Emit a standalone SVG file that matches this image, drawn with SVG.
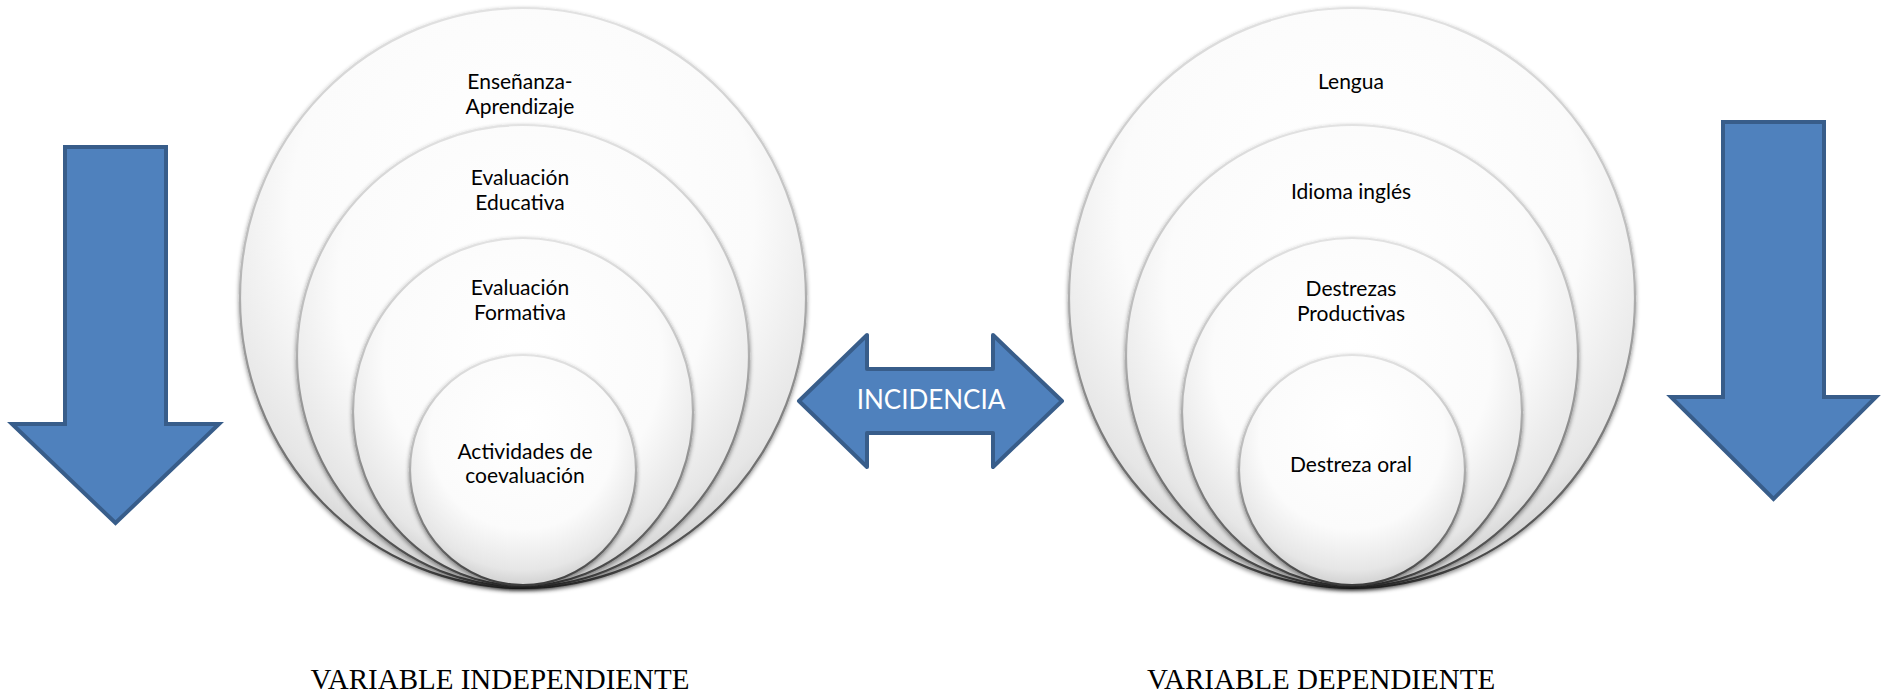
<svg xmlns="http://www.w3.org/2000/svg" width="1883" height="696" viewBox="0 0 1883 696">
  <defs>
    <radialGradient id="ballFill" cx="0.5" cy="0.38" r="0.66" fx="0.5" fy="0.3">
      <stop offset="0" stop-color="#ffffff"/>
      <stop offset="0.62" stop-color="#fbfbfb"/>
      <stop offset="0.86" stop-color="#e6e6e6"/>
      <stop offset="1" stop-color="#c4c4c4"/>
    </radialGradient>
    <linearGradient id="ballStroke" x1="0" y1="0" x2="0" y2="1">
      <stop offset="0" stop-color="#e2e2e2"/>
      <stop offset="0.45" stop-color="#b8b8b8"/>
      <stop offset="0.8" stop-color="#6e6e6e"/>
      <stop offset="1" stop-color="#3c3c3c"/>
    </linearGradient>
    <filter id="shade" x="-10%" y="-10%" width="120%" height="125%">
      <feDropShadow dx="0" dy="2" stdDeviation="2.2" flood-color="#000" flood-opacity="0.45"/>
    </filter>
  </defs>
  <style>
    .ball { fill: url(#ballFill); stroke: url(#ballStroke); stroke-width: 2.2; filter: url(#shade); }
    .lbl { font-family: Lato, Carlito, "Open Sans", sans-serif; font-size: 21px; fill: #000; text-anchor: middle; }
    .barrow { fill: #4f81bd; stroke: #385d8a; stroke-width: 4; stroke-linejoin: miter; }
    .var { font-family: "Liberation Serif", "Times New Roman", serif; font-size: 29px; fill: #000; text-anchor: middle; }
    .inc { font-family: Lato, Carlito, "Open Sans", sans-serif; font-size: 26px; fill: #ffffff; text-anchor: middle; }
  </style>
  <rect width="1883" height="696" fill="#ffffff"/>

  <g id="left-arrow">
    <polygon class="barrow" points="65,147 166,147 166,424 219,424 115.5,523 12,424 65,424"/>
  </g>

  <g id="left-venn">
    <g id="ens-apr">
      <ellipse class="ball" cx="523" cy="298" rx="283" ry="290"/>
      <text class="lbl" x="520" y="89">Enseñanza-</text>
      <text class="lbl" x="520" y="114">Aprendizaje</text>
    </g>
    <g id="eval-edu">
      <ellipse class="ball" cx="523" cy="356" rx="226" ry="231"/>
      <text class="lbl" x="520" y="185">Evaluación</text>
      <text class="lbl" x="520" y="210">Educativa</text>
    </g>
    <g id="eval-form">
      <ellipse class="ball" cx="523" cy="412" rx="170" ry="174"/>
      <text class="lbl" x="520" y="295">Evaluación</text>
      <text class="lbl" x="520" y="320">Formativa</text>
    </g>
    <g id="act-coev">
      <ellipse class="ball" cx="523" cy="470" rx="113" ry="115"/>
      <text class="lbl" x="525" y="459">Actividades de</text>
      <text class="lbl" x="525" y="483">coevaluación</text>
    </g>
  </g>

  <g id="connectors">
    <g id="incidencia">
      <polygon class="barrow" style="stroke-linejoin:round" points="799,401 867,335 867,369 993,369 993,335 1062,401 993,467 993,433 867,433 867,467"/>
      <text class="inc" x="931" y="409">INCIDENCIA</text>
    </g>
  </g>

  <g id="right-venn">
    <g id="lengua">
      <ellipse class="ball" cx="1352" cy="298" rx="283" ry="290"/>
      <text class="lbl" x="1351" y="89">Lengua</text>
    </g>
    <g id="idioma">
      <ellipse class="ball" cx="1352" cy="356" rx="226" ry="231"/>
      <text class="lbl" x="1351" y="199">Idioma inglés</text>
    </g>
    <g id="destrezas">
      <ellipse class="ball" cx="1352" cy="412" rx="170" ry="174"/>
      <text class="lbl" x="1351" y="296">Destrezas</text>
      <text class="lbl" x="1351" y="321">Productivas</text>
    </g>
    <g id="oral">
      <ellipse class="ball" cx="1352" cy="470" rx="113" ry="115"/>
      <text class="lbl" x="1351" y="472">Destreza oral</text>
    </g>
  </g>

  <g id="right-arrow">
    <polygon class="barrow" points="1723,122 1824,122 1824,397 1876,397 1773.5,499 1671,397 1723,397"/>
  </g>

  <g id="captions">
    <text class="var" x="500" y="689">VARIABLE INDEPENDIENTE</text>
    <text class="var" x="1321" y="689">VARIABLE DEPENDIENTE</text>
  </g>
</svg>
